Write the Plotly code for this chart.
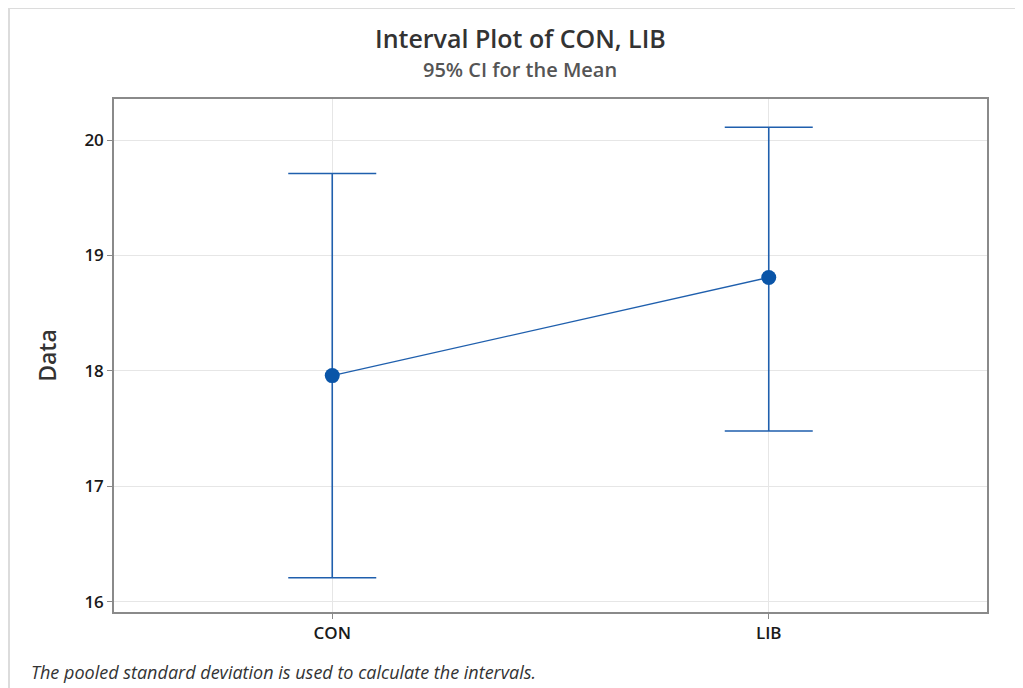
import plotly.graph_objects as go

categories = ["CON", "LIB"]
means = [17.96, 18.81]
upper = [19.71, 20.11]
lower = [16.21, 17.48]

xpos = list(range(len(categories)))
err_plus = [u - m for u, m in zip(upper, means)]
err_minus = [m - l for m, l in zip(means, lower)]

blue = "#1f5fad"

# page body has an 8px margin; plot area in figure coords
OFF = 8
L, R, T, B = 114 - OFF, 987 - OFF, 99 - OFF, 612 - OFF
W, H = 1023 - OFF, 688 - OFF
PW, PH = R - L, B - T

def px(x):
    return (x - OFF - L) / PW

def py(y):
    return 1 - (y - OFF - T) / PH

fig = go.Figure()
fig.add_trace(go.Scatter(
    x=xpos, y=means, mode="lines+markers",
    line=dict(color=blue, width=1.3),
    marker=dict(symbol="circle", size=15, color="#0a55a8"),
    error_y=dict(type="data", array=err_plus, arrayminus=err_minus,
                 visible=True, color=blue, thickness=1.6, width=44),
    showlegend=False, hoverinfo="skip",
))

font = "Open Sans, Noto Sans, sans-serif"
fig.update_layout(
    width=W, height=H,
    margin=dict(l=L, r=W - R, t=T, b=H - B),
    paper_bgcolor="white", plot_bgcolor="white",
    font=dict(family=font, color="#222"),
    xaxis=dict(range=[-0.5, 1.5], tickvals=xpos, ticktext=categories,
               showgrid=True, gridcolor="#e6e6e6", gridwidth=1,
               zeroline=False, showline=True, linecolor="#8a8a8a", linewidth=1.5,
               mirror=True, ticks="outside", ticklen=5, tickcolor="#8a8a8a",
               tickfont=dict(size=17, color="#1a1a1a", weight=600)),
    yaxis=dict(range=[15.913, 20.355], tickvals=[16, 17, 18, 19, 20],
               showgrid=True, gridcolor="#e6e6e6", gridwidth=1,
               zeroline=False, showline=True, linecolor="#8a8a8a", linewidth=1.5,
               mirror=True, ticks="outside", ticklen=5, tickcolor="#8a8a8a",
               tickfont=dict(size=17, color="#1a1a1a", weight=600),
               title=dict(text="Data", font=dict(size=23, color="#333", weight=600), standoff=21)),
    shapes=[dict(type="rect", xref="paper", yref="paper",
                 x0=px(9), x1=1.3, y0=-0.3, y1=py(8),
                 line=dict(color="#dcdcdc", width=2), layer="below")],
    annotations=[
        dict(text="Interval Plot of CON, LIB", xref="paper", yref="paper",
             x=px(520), y=py(38), showarrow=False,
             xanchor="center", yanchor="middle",
             font=dict(size=25, color="#333", family=font, weight=600)),
        dict(text="95% CI for the Mean", xref="paper", yref="paper",
             x=px(520), y=py(69), showarrow=False,
             xanchor="center", yanchor="middle",
             font=dict(size=20, color="#555", family=font, weight=600)),
        dict(text="<i>The pooled standard deviation is used to calculate the intervals.</i>",
             xref="paper", yref="paper",
             x=px(29), y=py(672), showarrow=False,
             xanchor="left", yanchor="middle",
             font=dict(size=18, color="#333", family=font)),
    ],
)

fig.write_html("out.html")
